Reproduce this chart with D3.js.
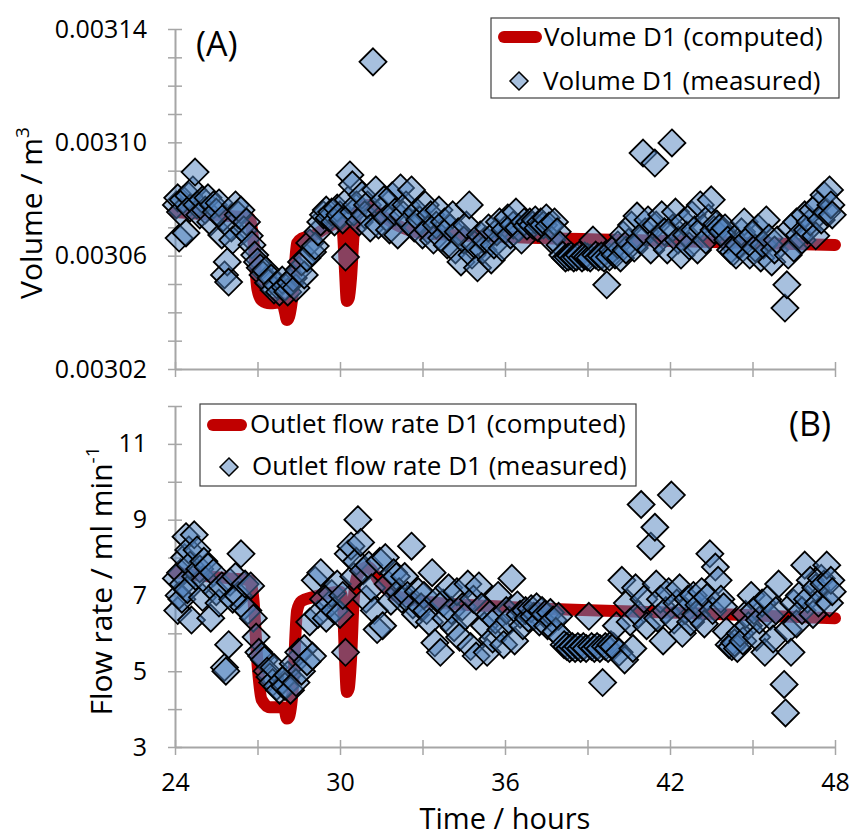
<!DOCTYPE html>
<html><head><meta charset="utf-8">
<script src="https://cdn.jsdelivr.net/npm/d3@7"></script>
<style>body{margin:0;background:#fff} text{font-family:"Open Sans",sans-serif;fill:#000}</style>
</head><body><svg id="c" width="852" height="836"></svg>
<script>
// ---- tick labels ----
const timeTicks = [24, 30, 36, 42, 48];
const timeMinor = [24, 27, 30, 33, 36, 39, 42, 45, 48];
const volTicks = [0.00302, 0.00306, 0.00310, 0.00314];
const volMinor = [0.00302,0.00303,0.00304,0.00305,0.00306,0.00307,0.00308,0.00309,0.00310,0.00311,0.00312,0.00313,0.00314];
const flowTicks = [3, 5, 7, 9, 11];
const flowMinor = [3,4,5,6,7,8,9,10,11,12];

// ---- (A) computed volume ----
const compVolTime = [24.0,25.0,26.0,26.7,26.85,27.0,27.15,27.45,27.9,28.0,28.07,28.15,28.29,28.44,28.6,29.0,29.5,30.0,30.1,30.18,30.25,30.32,30.4,30.5,30.65,31.0,31.5,32.0,33.0,36.0,42.0,48.0];
const compVol = [0.0030754,0.0030747,0.0030740,0.0030733,0.0030650,0.0030480,0.0030443,0.0030432,0.0030436,0.0030400,0.0030373,0.0030385,0.0030472,0.0030645,0.0030660,0.0030670,0.0030698,0.0030719,0.0030690,0.0030550,0.0030440,0.0030450,0.0030520,0.0030680,0.0030760,0.0030779,0.0030744,0.0030712,0.0030680,0.0030666,0.0030652,0.0030638];

// ---- (A) measured volume ----
const volTime = [24.05,24.1,24.15,24.2,24.3,24.4,24.5,24.55,24.65,24.73,24.8,24.9,25.0,25.1,25.2,25.3,25.4,25.5,25.6,25.7,25.75,25.8,25.9,25.95,26.05,26.1,26.2,26.3,26.4,26.5,26.6,26.7,26.8,26.9,27.0,27.1,27.2,27.3,27.4,27.5,27.6,27.7,27.8,27.9,28.0,28.1,28.2,28.3,28.4,28.5,28.6,28.7,28.8,28.9,29.0,29.1,29.2,29.3,29.4,29.5,29.6,29.7,29.8,29.9,30.0,30.1,30.2,30.3,30.36,30.45,30.5,30.6,30.7,30.8,30.9,31.0,31.1,31.2,31.3,31.4,31.5,31.6,31.7,31.8,31.9,32.0,32.1,32.2,32.3,32.4,32.5,32.6,32.7,32.8,32.9,33.0,33.1,33.2,33.3,33.4,33.5,33.6,33.7,33.8,33.9,34.0,34.1,34.2,34.3,34.4,34.5,34.6,34.7,34.8,34.9,35.0,35.1,35.2,35.3,35.4,35.5,35.6,35.7,35.8,35.9,36.0,36.1,36.2,36.3,36.4,36.5,36.6,36.7,36.8,36.9,37.0,37.1,37.2,37.3,37.4,37.5,37.6,37.7,37.8,37.9,38.0,38.1,38.2,38.3,38.4,38.5,38.6,38.7,38.8,38.9,39.0,39.1,39.2,39.3,39.4,39.5,39.6,39.7,39.8,39.9,40.0,40.1,40.2,40.3,40.4,40.5,40.6,40.7,40.8,40.9,41.02,41.1,41.2,41.3,41.45,41.5,41.6,41.7,41.8,41.9,42.07,42.1,42.2,42.3,42.4,42.5,42.6,42.7,42.8,42.9,43.0,43.1,43.2,43.3,43.4,43.5,43.6,43.7,43.8,43.9,44.0,44.1,44.2,44.3,44.4,44.5,44.6,44.7,44.8,44.9,45.0,45.1,45.2,45.3,45.4,45.5,45.6,45.7,45.8,45.9,46.18,46.25,46.3,46.4,46.5,46.6,46.7,46.8,46.9,47.0,47.1,47.2,47.3,47.4,47.5,47.6,47.7,47.8,47.85,47.9];
const volMeasured = [0.0030779,0.0030804,0.0030662,0.0030754,0.0030797,0.0030680,0.0030811,0.0030768,0.0030832,0.0030895,0.0030779,0.0030744,0.0030797,0.0030761,0.0030804,0.0030719,0.0030779,0.0030754,0.0030786,0.0030673,0.0030733,0.0030532,0.0030578,0.0030507,0.0030698,0.0030655,0.0030779,0.0030744,0.0030761,0.0030691,0.0030719,0.0030670,0.0030638,0.0030602,0.0030578,0.0030557,0.0030532,0.0030549,0.0030504,0.0030521,0.0030479,0.0030497,0.0030472,0.0030514,0.0030489,0.0030472,0.0030504,0.0030521,0.0030486,0.0030549,0.0030578,0.0030532,0.0030592,0.0030645,0.0030613,0.0030634,0.0030684,0.0030719,0.0030744,0.0030761,0.0030733,0.0030754,0.0030719,0.0030768,0.0030744,0.0030726,0.0030595,0.0030797,0.0030885,0.0030850,0.0030754,0.0030779,0.0030719,0.0030814,0.0030744,0.0030779,0.0030698,0.0031284,0.0030832,0.0030708,0.0030761,0.0030797,0.0030733,0.0030691,0.0030811,0.0030754,0.0030673,0.0030839,0.0030744,0.0030779,0.0030719,0.0030832,0.0030698,0.0030754,0.0030726,0.0030673,0.0030779,0.0030691,0.0030744,0.0030655,0.0030708,0.0030761,0.0030662,0.0030719,0.0030638,0.0030698,0.0030744,0.0030620,0.0030684,0.0030578,0.0030655,0.0030708,0.0030779,0.0030602,0.0030638,0.0030557,0.0030673,0.0030620,0.0030655,0.0030698,0.0030585,0.0030638,0.0030684,0.0030719,0.0030627,0.0030691,0.0030733,0.0030673,0.0030708,0.0030754,0.0030698,0.0030655,0.0030719,0.0030705,0.0030719,0.0030708,0.0030726,0.0030698,0.0030719,0.0030708,0.0030733,0.0030705,0.0030655,0.0030719,0.0030684,0.0030638,0.0030602,0.0030592,0.0030595,0.0030599,0.0030592,0.0030595,0.0030602,0.0030592,0.0030599,0.0030595,0.0030592,0.0030655,0.0030602,0.0030595,0.0030599,0.0030592,0.0030497,0.0030595,0.0030620,0.0030602,0.0030638,0.0030592,0.0030673,0.0030620,0.0030648,0.0030708,0.0030627,0.0030740,0.0030655,0.0030962,0.0030684,0.0030726,0.0030620,0.0030927,0.0030708,0.0030655,0.0030744,0.0030684,0.0030620,0.0030998,0.0030698,0.0030754,0.0030655,0.0030602,0.0030719,0.0030673,0.0030634,0.0030744,0.0030691,0.0030620,0.0030779,0.0030698,0.0030655,0.0030733,0.0030797,0.0030691,0.0030712,0.0030698,0.0030684,0.0030698,0.0030655,0.0030620,0.0030613,0.0030602,0.0030638,0.0030684,0.0030719,0.0030655,0.0030602,0.0030673,0.0030627,0.0030698,0.0030592,0.0030638,0.0030726,0.0030662,0.0030578,0.0030620,0.0030655,0.0030415,0.0030497,0.0030602,0.0030698,0.0030627,0.0030719,0.0030673,0.0030655,0.0030744,0.0030691,0.0030719,0.0030761,0.0030670,0.0030779,0.0030726,0.0030814,0.0030754,0.0030832,0.0030779,0.0030744];

// ---- (B) computed flow ----
const compFlowTime = [24.0,25.0,26.0,26.7,26.85,27.0,27.15,27.45,27.9,28.0,28.07,28.15,28.29,28.44,28.6,29.0,29.5,30.0,30.1,30.18,30.25,30.32,30.4,30.5,30.65,31.0,31.5,32.0,33.0,36.0,42.0,48.0];
const compFlow = [7.60,7.52,7.45,7.40,6.90,5.20,4.25,4.05,4.05,3.95,3.75,3.80,4.60,6.60,6.85,6.95,7.05,7.10,6.80,5.40,4.45,4.55,5.30,6.90,7.55,7.75,7.30,7.00,6.85,6.70,6.55,6.40];

// ---- (B) measured flow ----
const flowTime = [24.05,24.1,24.15,24.2,24.25,24.3,24.35,24.4,24.45,24.5,24.55,24.6,24.7,24.75,24.8,24.9,25.0,25.05,25.1,25.2,25.3,25.4,25.5,25.6,25.7,25.8,25.85,25.95,26.0,26.1,26.2,26.3,26.4,26.5,26.55,26.65,26.75,26.85,26.95,27.05,27.15,27.25,27.35,27.45,27.55,27.6,27.7,27.8,27.9,28.0,28.1,28.2,28.3,28.4,28.5,28.6,28.7,28.8,28.9,29.0,29.1,29.2,29.3,29.4,29.5,29.6,29.7,29.8,29.9,30.0,30.1,30.2,30.3,30.4,30.5,30.6,30.65,30.75,30.85,30.95,31.05,31.15,31.25,31.35,31.45,31.55,31.65,31.75,31.85,31.95,32.05,32.15,32.25,32.35,32.45,32.6,32.65,32.75,32.85,32.95,33.05,33.15,33.25,33.35,33.45,33.55,33.65,33.75,33.85,33.95,34.05,34.15,34.25,34.35,34.45,34.55,34.65,34.75,34.85,34.95,35.05,35.15,35.25,35.35,35.45,35.55,35.65,35.75,35.85,35.95,36.05,36.15,36.25,36.35,36.45,36.55,36.65,36.75,36.85,36.95,37.05,37.15,37.25,37.35,37.45,37.55,37.65,37.75,37.85,37.95,38.05,38.15,38.25,38.35,38.45,38.55,38.65,38.75,38.85,38.95,39.05,39.15,39.25,39.35,39.45,39.55,39.65,39.75,39.85,39.95,40.05,40.15,40.25,40.35,40.45,40.55,40.65,40.75,40.85,40.95,41.05,41.15,41.3,41.45,41.5,41.55,41.65,41.75,41.85,41.95,42.05,42.15,42.25,42.35,42.45,42.55,42.65,42.75,42.85,42.95,43.05,43.15,43.25,43.35,43.45,43.55,43.65,43.75,43.85,43.95,44.05,44.15,44.25,44.35,44.45,44.55,44.65,44.75,44.85,44.95,45.05,45.15,45.25,45.35,45.45,45.55,45.65,45.75,45.85,45.95,46.15,46.2,46.3,46.4,46.5,46.6,46.7,46.8,46.9,47.0,47.1,47.2,47.3,47.4,47.5,47.6,47.7,47.8,47.85,47.9];
const flowMeasured = [7.45,6.6,7.0,7.6,6.9,7.3,8.0,8.55,7.15,8.2,7.8,6.35,8.6,7.5,8.2,7.7,6.95,7.9,7.4,7.75,6.4,7.6,7.1,6.8,7.25,5.1,5.0,5.7,7.35,6.9,7.5,7.0,8.1,6.7,7.3,6.6,7.25,6.4,5.9,5.5,5.4,5.3,5.0,4.85,4.7,5.1,4.6,4.5,4.75,4.6,4.9,4.5,5.2,4.7,5.5,5.0,5.6,5.25,6.3,5.4,7.4,6.5,7.6,6.9,6.4,6.75,7.05,6.6,7.3,6.5,7.0,5.5,8.1,8.3,7.5,7.9,9.0,8.4,7.65,6.9,7.8,7.2,6.6,6.1,7.9,6.2,8.0,7.3,6.85,7.6,7.5,7.1,6.9,7.5,7.0,8.3,6.75,6.5,7.1,6.7,7.0,6.6,6.3,7.6,5.75,6.9,5.5,6.8,6.4,7.2,6.6,6.15,7.1,5.9,6.7,6.45,7.3,5.65,6.9,5.4,7.25,6.7,6.2,5.5,6.5,5.85,6.35,7.0,6.1,5.7,6.6,6.35,7.45,5.8,6.75,6.5,6.2,6.6,6.4,6.65,6.45,6.7,6.3,6.6,6.5,6.2,6.55,6.35,6.05,6.45,5.9,5.7,5.65,5.6,5.65,5.6,5.65,5.6,5.65,5.6,6.45,5.65,5.6,5.65,5.6,4.7,5.65,5.6,5.7,5.65,6.2,5.5,7.4,5.3,6.8,6.3,5.6,7.2,6.5,9.4,6.9,6.2,8.3,8.8,7.3,6.4,6.9,5.8,6.6,7.1,9.65,6.35,6.8,7.2,6.0,6.6,6.9,6.3,7.0,6.5,6.75,7.1,6.25,6.95,8.1,6.6,7.75,7.4,6.9,6.7,6.05,5.7,5.65,5.75,5.6,6.0,5.8,6.5,6.2,7.0,6.6,5.9,6.35,6.8,5.5,6.9,6.45,5.85,6.6,7.3,4.65,3.9,6.1,5.5,6.8,6.25,7.0,6.6,7.8,6.9,7.4,6.5,7.2,6.8,7.45,7.3,7.8,6.8,7.4,7.1];

// ---- drawing ----
const svg = d3.select("#c");
const x = d3.scaleLinear().domain([24, 48]).range([175, 835]);
const yV = d3.scaleLinear().domain([0.00302, 0.00314]).range([369, 29]);
const yF = d3.scaleLinear().domain([3, 12]).range([747, 406]);
const AX = "#a6a6a6";
const RED = "#c00000";
const diamond = r => `M0,${-r}L${r},0L0,${r}L${-r},0Z`;

function panel(y, yMinor, yMajor, fmt, showXLabels, cTime, cVal, mTime, mVal) {
  const [y0, y1] = y.range();
  const gy = svg.append("g").attr("transform", "translate(175,0)")
    .call(d3.axisLeft(y).tickValues(yMinor).tickSize(7).tickSizeOuter(0).tickFormat(""));
  gy.selectAll(".tick line").attr("x1", -7).attr("x2", 7).attr("stroke", AX).attr("stroke-width", 1.5);
  gy.select(".domain").attr("stroke", AX).attr("stroke-width", 2);
  const gyl = svg.append("g").attr("transform", "translate(175,0)")
    .call(d3.axisLeft(y).tickValues(yMajor).tickSize(0).tickPadding(28).tickFormat(fmt));
  gyl.select(".domain").remove();
  gyl.selectAll("text").attr("font-size", 25).attr("font-family", "Open Sans").attr("fill", "#000");
  const gx = svg.append("g").attr("transform", `translate(0,${y0})`)
    .call(d3.axisBottom(x).tickValues(timeMinor).tickSize(7).tickSizeOuter(0).tickFormat(""));
  gx.selectAll(".tick line").attr("y1", -7).attr("y2", 8).attr("stroke", AX).attr("stroke-width", 1.5);
  gx.select(".domain").attr("stroke", AX).attr("stroke-width", 2);
  if (showXLabels) {
    const gxl = svg.append("g").attr("transform", `translate(0,${y0})`)
      .call(d3.axisBottom(x).tickValues(timeTicks).tickSize(0).tickPadding(26).tickFormat(d3.format("d")));
    gxl.select(".domain").remove();
    gxl.selectAll("text").attr("font-size", 25).attr("font-family", "Open Sans").attr("fill", "#000");
  }
  const line = d3.line().x((d, i) => x(cTime[i])).y(d => y(d)).curve(d3.curveMonotoneX);
  svg.append("path").attr("d", line(cVal)).attr("fill", "none").attr("stroke", RED)
    .attr("stroke-width", 12).attr("stroke-linecap", "round").attr("stroke-linejoin", "round");
  svg.append("g").selectAll("path").data(mVal).join("path")
    .attr("d", diamond(13.5))
    .attr("transform", (d, i) => `translate(${x(mTime[i])},${y(d)})`)
    .attr("fill", "#4f81bd").attr("fill-opacity", 0.5)
    .attr("stroke", "#000").attr("stroke-width", 1.8);
}

panel(yV, volMinor, volTicks, d3.format(".5f"), false, compVolTime, compVol, volTime, volMeasured);
panel(yF, flowMinor, flowTicks, d3.format("d"), true, compFlowTime, compFlow, flowTime, flowMeasured);

const t1 = svg.append("text").attr("transform", "translate(42,213) rotate(-90)")
  .attr("text-anchor", "middle").attr("font-size", 30);
t1.append("tspan").text("Volume / m");
t1.append("tspan").text("3").attr("font-size", 19).attr("dy", -13);

const t2 = svg.append("text").attr("transform", "translate(112,581) rotate(-90)")
  .attr("text-anchor", "middle").attr("font-size", 30);
t2.append("tspan").text("Flow rate / ml min");
t2.append("tspan").text("-1").attr("font-size", 19).attr("dy", -13);

svg.append("text").attr("x", 505).attr("y", 829).attr("text-anchor", "middle")
  .attr("font-size", 29).text("Time / hours");

svg.append("text").attr("x", 196).attr("y", 56).attr("font-size", 34).text("(A)");
svg.append("text").attr("x", 789).attr("y", 436).attr("font-size", 34).text("(B)");

function legend(bx, by, bw, bh, lineX1, lineX2, lineY, text1X, text1Y, dX, dY, text2X, text2Y, label1, label2) {
  svg.append("rect").attr("x", bx).attr("y", by).attr("width", bw).attr("height", bh)
    .attr("fill", "#fff").attr("stroke", "#404040").attr("stroke-width", 1.2);
  svg.append("line").attr("x1", lineX1).attr("x2", lineX2).attr("y1", lineY).attr("y2", lineY)
    .attr("stroke", RED).attr("stroke-width", 12).attr("stroke-linecap", "round");
  svg.append("text").attr("x", text1X).attr("y", text1Y).attr("font-size", 26).text(label1);
  svg.append("path").attr("d", diamond(9)).attr("transform", `translate(${dX},${dY})`)
    .attr("fill", "#4f81bd").attr("fill-opacity", 0.5).attr("stroke", "#000").attr("stroke-width", 1.5);
  svg.append("text").attr("x", text2X).attr("y", text2Y).attr("font-size", 26).text(label2);
}
legend(491, 18, 348, 80, 504, 536, 37, 544, 46, 519, 81, 543, 90, "Volume D1 (computed)", "Volume D1 (measured)");
legend(200, 404, 436, 82, 213, 241, 425, 250, 433, 229, 467, 252, 475, "Outlet flow rate D1 (computed)", "Outlet flow rate D1 (measured)");
</script></body></html>
